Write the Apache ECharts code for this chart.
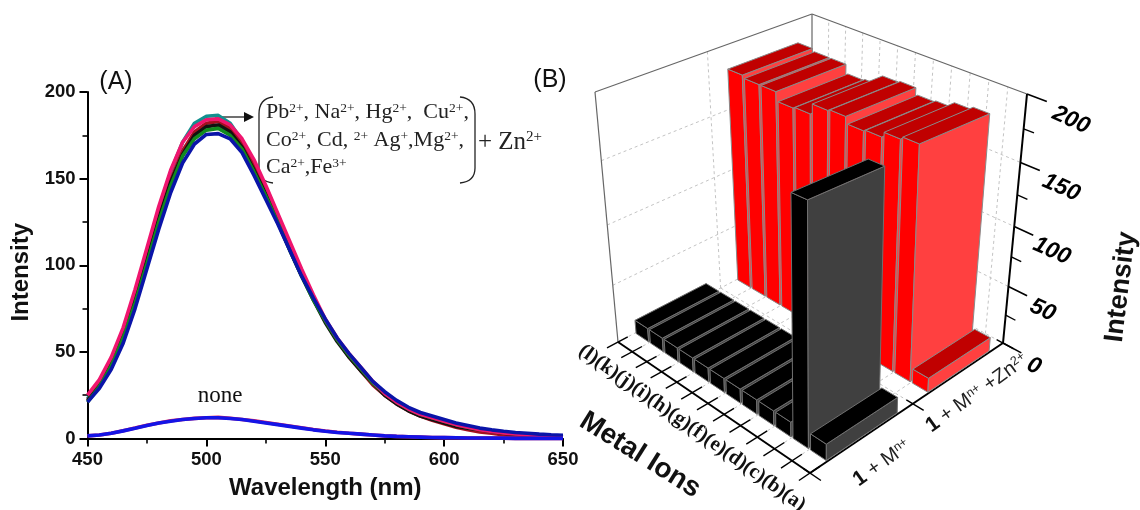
<!DOCTYPE html>
<html><head><meta charset="utf-8">
<style>html,body{margin:0;padding:0;background:#fff}#c{width:1140px;height:510px}</style>
<script src="https://cdn.jsdelivr.net/npm/echarts@6/dist/echarts.min.js"></script>
</head><body><div id="c"></div>
<script>
const wavelengths=[450,455,460,465,470,475,480,485,490,495,500,505,510,515,520,525,530,535,540,545,550,555,560,565,570,575,580,585,590,595,600,605,610,615,620,625,630,635,640,645,650];
const tealCurve=[23,32,45,62,84,108,132,154,171,182,186,186.5,182,172,158,143,127,111,95,81,68,57,48,40,32,26,21,17,14,12,10,8,6.5,5,4,3.2,2.6,2.2,1.8,1.5,1.2];
const darkRedCurve=[22,31,44,60,81,104,128,149,166,177,182,183,179,171,159,145,129,112,96,81,68,57,47,39,31,25,20,16,13,10.5,8.5,6.5,5,3.8,3,2,1.5,1.2,1,0.8,0.7];
const blackCurve=[22,30,43,59,80,103,127,148,164,175,180,181,177,168,155,141,125,109,94,80,67,56,47,39,32,25,20,16,13,11,9,7,6,5,4,3,2.5,2,1.8,1.4,1];
const pinkCurve=[25,34,47,64,86,110,134,155,171,180,184,184.5,181,173,161,146,130,114,98,83,69,58,49,41,33,26,21,17,14,12,10,8,6.5,5,4,3.2,2.6,2.2,1.8,1.5,1.2];
const greenCurve=[21,30,42,58,78,101,125,146,163,173,178,179,175,167,154,140,125,109,94,80,68,57,48,40,32,26,21,17,14,12,10,8,6.5,5.2,4.2,3.4,2.8,2.3,1.9,1.5,1.2];
const navyCurve=[21,29,40,55,75,98,121,142,159,170,175.5,176,173,165,152,138,124,109,94,81,69,58,49,41,33,27,22,18,15,13,11,9,7.5,6,5,4.2,3.5,3,2.5,2.1,1.8];
const noneRedCurve=[1.5,2,3,4.5,6,7.6,9,10.2,11,11.6,12,12.2,11.7,11,10.2,9.2,8.2,7.2,6.2,5.2,4.3,3.6,3,2.5,2,1.5,1.2,1,0.8,0.6,0.5,0.4,0.3,0.3,0.2,0.2,0.1,0.1,0.1,0,0];
const noneBlueCurve=[1.5,2,3,4.4,5.9,7.5,9,10,11,11.5,12,12,11.5,11,10,9,8,7,6,5,4.2,3.5,3,2.5,2,1.5,1.2,1,0.8,0.6,0.5,0.4,0.3,0.3,0.2,0.2,0.1,0.1,0.1,0,0];

const ionLabels=['(l)','(k)','(j)','(i)','(h)','(g)','(f)','(e)','(d)','(c)','(b)','(a)'];
const metalOnly=[12,12,12,12,12,12,12,12,12,12,180,13];
const metalPlusZn=[182,180,180,173,174,182,183,178,179,183,185,12];
const intensityTicks=[0,50,100,150,200];

const SANS='"Liberation Sans",Arial,sans-serif', SERIF='"Liberation Serif","Times New Roman",serif';

function quad(p){const [p0,p1,p2,p3]=p;
 const dx1=p1[0]-p2[0],dx2=p3[0]-p2[0],sx=p0[0]-p1[0]+p2[0]-p3[0];
 const dy1=p1[1]-p2[1],dy2=p3[1]-p2[1],sy=p0[1]-p1[1]+p2[1]-p3[1];
 const det=dx1*dy2-dx2*dy1,g=(sx*dy2-dx2*sy)/det,h=(dx1*sy-sx*dy1)/det;
 const a=p1[0]-p0[0]+g*p1[0],b=p3[0]-p0[0]+h*p3[0],c=p0[0];
 const d=p1[1]-p0[1]+g*p1[1],e=p3[1]-p0[1]+h*p3[1],f=p0[1];
 return (u,v)=>{const q=g*u+h*v+1;return [(a*u+b*v+c)/q,(d*u+e*v+f)/q];};
}
const floorMap=quad([[618,342],[810,473],[1003,343],[812,240]]);
const roofMap=quad([[595,92],[809,185],[1027,94],[812,14]]);
const persp=0.88;
function P(u,v,w){const F=floorMap(u,v),T=roofMap(u,v),t=w*persp/((1-w)+w*persp);
 return [F[0]+t*(T[0]-F[0]),F[1]+t*(T[1]-F[1])];}

const G={left:600,top:20,width:400,height:400};
function seg(a,b,stroke,lw,dash){return {type:'line',shape:{x1:a[0],y1:a[1],x2:b[0],y2:b[1]},style:{stroke:stroke,lineWidth:lw,lineDash:dash||null,fill:null},silent:true};}
function poly(pts,fill,z,edge){return {type:'polygon',shape:{points:pts},style:{fill:fill,stroke:edge,lineWidth:1},z2:z,silent:true};}

function barRenderer(row,cols,edge){
 return function(params,api){
  const c=api.coord([api.value(0),api.value(1)]);
  const sz=api.size([1,0])[0];
  const um=(c[0]-G.left)/G.width,half=0.44*sz/G.width,w=(G.top+G.height-c[1])/G.height;
  const u0=um-half,u1=um+half,v0=row[0],v1=row[1],z=params.dataIndex*3;
  return {type:'group',children:[
   poly([P(u0,v0,0),P(u1,v0,0),P(u1,v0,w),P(u0,v0,w)],cols[0],z,edge),
   poly([P(u1,v0,0),P(u1,v1,0),P(u1,v1,w),P(u1,v0,w)],cols[1],z+1,edge),
   poly([P(u0,v0,w),P(u1,v0,w),P(u1,v1,w),P(u0,v1,w)],cols[2],z+2,edge)
  ]};
 };
}
function frameRenderer(params,api){
 const ch=[],dash=[3,3],gr='#c4c4c4',ln='#666';
 intensityTicks.forEach(t=>{ if(t===0||t===200) return;
  const w=(G.top+G.height-api.coord([0,t])[1])/G.height;
  ch.push(seg(P(0,0,w),P(0,1,w),gr,1,dash),seg(P(0,1,w),P(1,1,w),gr,1,dash));
 });
 ch.push(seg(P(0,.5,0),P(0,.5,1),gr,1,dash));
 ionLabels.forEach((l,i)=>{const u=i/ionLabels.length;
  if(i>0) ch.push(seg(P(u,1,0),P(u,1,1),gr,1,dash));
  ch.push(seg(P(u,0,0),P(u,1,0),gr,1,dash));});
 ch.push(seg(P(0,.5,0),P(1,.5,0),gr,1,dash),seg(P(0,1,0),P(1,1,0),gr,1,dash),seg(P(0,0,1),P(0,1,1),ln,1.2),seg(P(0,1,1),P(1,1,1),ln,1.2),seg(P(0,0,0),P(0,0,1),ln,1.2),seg(P(0,1,0),P(0,1,1),ln,1.2));
 return {type:'group',children:ch};
}
function axesRenderer(params,api){
 const ch=[];
 ch.push(seg(P(0,0,0),P(1,0,0),'#000',2),seg(P(1,0,0),P(1,1,0),'#000',2),seg(P(1,1,0),P(1,1,1),'#000',2));
 for(let i=0;i<=ionLabels.length;i++){const u=i/ionLabels.length;ch.push(seg(P(u,-.05,0),P(u,.045,0),'#000',1.4));}
 [0,.5,1].forEach(v=>ch.push(seg(P(.97,v,0),P(1.05,v,0),'#000',1.4)));
 intensityTicks.forEach((t,i)=>{
  const w=(G.top+G.height-api.coord([0,t])[1])/G.height,a=P(1,1,w);
  ch.push(seg(a,P(1.085,1,w),'#000',1.6));
  ch.push({type:'text',x:a[0]+31+w*13,y:a[1]+23+w*3,rotation:-0.42,silent:true,
   style:{text:String(t),fill:'#000',font:'italic bold 23px '+SANS,align:'center',verticalAlign:'middle'}});
  if(i<intensityTicks.length-1){const wm=(G.top+G.height-api.coord([0,t+25])[1])/G.height;
   ch.push(seg(P(1,1,wm),P(1.045,1,wm),'#000',1.4));}
 });
 return {type:'group',children:ch};
}

function txt(x,y,text,font,extra){return Object.assign({type:'text',x:x,y:y,silent:true,
 style:{text:text,font:font,fill:'#111',textAlign:'center',textVerticalAlign:'middle',align:'center',verticalAlign:'middle'}},extra||{});}
function rich(x,y,text,rs,extra,al){const a=al||'left';return Object.assign({type:'text',x:x,y:y,silent:true,
 style:{text:text,rich:rs,fill:'#222',textAlign:a,textVerticalAlign:'middle',align:a,verticalAlign:'middle'}},extra||{});}
const chemRich={t:{fontFamily:SERIF,fontSize:22,fill:'#222'},s:{fontFamily:SERIF,fontSize:13.5,fill:'#222',verticalAlign:'top'}};
const zRich={t:{fontFamily:SERIF,fontSize:25,fill:'#222'},s:{fontFamily:SERIF,fontSize:15,fill:'#222',verticalAlign:'top'}};
const rowRich={b:{fontFamily:SANS,fontSize:21,fontWeight:'bold',fill:'#111'},t:{fontFamily:SANS,fontSize:20,fill:'#222'},s:{fontFamily:SANS,fontSize:12.5,fill:'#222',verticalAlign:'top'}};
function bez(x1,y1,cx1,cy1,cx2,cy2,x2,y2){return {type:'bezierCurve',silent:true,shape:{x1,y1,cpx1:cx1,cpy1:cy1,cpx2:cx2,cpy2:cy2,x2,y2},style:{stroke:'#222',lineWidth:1.3,fill:null}};}
function ln(x1,y1,x2,y2,w){return {type:'line',silent:true,shape:{x1,y1,x2,y2},style:{stroke:'#222',lineWidth:w||1.3}};}

const curves=[[tealCurve,'#12908f'],[darkRedCurve,'#a5101f'],[blackCurve,'#111111'],[greenCurve,'#128a1e'],[pinkCurve,'#f0156e'],[navyCurve,'#0a14a8'],[noneRedCurve,'#e0205a'],[noneBlueCurve,'#1414e6']];
const series=curves.map(c=>({type:'line',xAxisIndex:0,yAxisIndex:0,showSymbol:false,silent:true,animation:false,clip:false,
 data:wavelengths.map((x,i)=>[x,c[0][i]]),lineStyle:{color:c[1],width:3.6}}));
const custom=(renderItem,data)=>({type:'custom',xAxisIndex:1,yAxisIndex:1,coordinateSystem:'cartesian2d',silent:true,animation:false,clip:false,encode:{x:0,y:1},renderItem,data});
series.push(custom(frameRenderer,[[0,0]]));
series.push(custom(barRenderer([.585,.925],['#ff0000','#ff4040','#c00000'],'#8a8a8a'),metalPlusZn.map((v,i)=>[i,v])));
series.push(custom(barRenderer([.08,.425],['#000000','#404040','#000000'],'#707070'),metalOnly.map((v,i)=>[i,v])));
series.push(custom(axesRenderer,[[0,0]]));

const chart=echarts.init(document.getElementById('c'),null,{renderer:'canvas'});
chart.setOption({animation:false,backgroundColor:'#fff',
 grid:[{left:87.5,top:92,width:475.5,height:346.5},Object.assign({},G)],
 xAxis:[{type:'value',min:450,max:650,interval:50,gridIndex:0,name:'Wavelength (nm)',nameLocation:'middle',nameGap:38,
   nameTextStyle:{fontFamily:SANS,fontWeight:'bold',fontSize:24,color:'#111'},
   axisLine:{lineStyle:{color:'#000',width:2},onZero:false},axisTick:{length:8,lineStyle:{color:'#000',width:2}},
   minorTick:{show:true,splitNumber:2,length:5,lineStyle:{color:'#000',width:1.6}},splitLine:{show:false},
   axisLabel:{fontFamily:SANS,fontWeight:'bold',fontSize:18.5,color:'#111',margin:12}},
  {type:'category',gridIndex:1,data:ionLabels,show:false}],
 yAxis:[{type:'value',min:0,max:200,interval:50,gridIndex:0,name:'Intensity',nameLocation:'middle',nameGap:54,
   nameTextStyle:{fontFamily:SANS,fontWeight:'bold',fontSize:24,color:'#111',padding:[0,14,0,0]},
   axisLine:{show:true,lineStyle:{color:'#000',width:2},onZero:false},axisTick:{show:true,length:8,lineStyle:{color:'#000',width:2}},
   minorTick:{show:true,splitNumber:2,length:5,lineStyle:{color:'#000',width:1.6}},splitLine:{show:false},
   axisLabel:{fontFamily:SANS,fontWeight:'bold',fontSize:18.5,color:'#111',margin:12}},
  {type:'value',gridIndex:1,min:0,max:200,show:false}],
 series:series,
 graphic:{elements:[
  txt(116,82,'(A)','25px '+SANS),
  txt(550,80,'(B)','25px '+SANS),
  txt(220,396,'none','23px '+SERIF,{}),
  ln(215,117,245,117),
  {type:'polygon',silent:true,shape:{points:[[244,112],[254,117],[244,122]]},style:{fill:'#111'}},
  bez(273,97,264,98,259,104,259,114),ln(259,114,259,168),bez(259,168,259,177,264,182,273,183),
  bez(460,97,470,98,475,104,475,114),ln(475,114,475,168),bez(475,168,475,177,470,182,460,183),
  rich(266,112,'{t|Pb}{s|2+}{t|, Na}{s|2+}{t|, Hg}{s|2+}{t|,  Cu}{s|2+}{t|,}',chemRich),
  rich(266,140,'{t|Co}{s|2+}{t|, Cd, }{s|2+}{t| Ag}{s|+}{t|,Mg}{s|2+}{t|,}',chemRich),
  rich(266,167,'{t|Ca}{s|2+}{t|,Fe}{s|3+}',chemRich),
  rich(478,142,'{t|+ Zn}{s|2+}',zRich),
  txt(1121,287,'Intensity','bold 27px '+SANS,{rotation:1.45}),
  txt(640,455,'Metal Ions','bold 28px '+SANS,{rotation:-0.56}),
  txt(692,428,ionLabels.join(''),'bold 20.5px '+SERIF,{rotation:-0.617}),
  rich(882,463,'{b|1}{t| + M}{s|n+}',rowRich,{rotation:0.62},'center'),
  rich(977,393,'{b|1}{t| + M}{s|n+}{t| +Zn}{s|2+}',rowRich,{rotation:0.62},'center')
 ]}
});
</script></body></html>
